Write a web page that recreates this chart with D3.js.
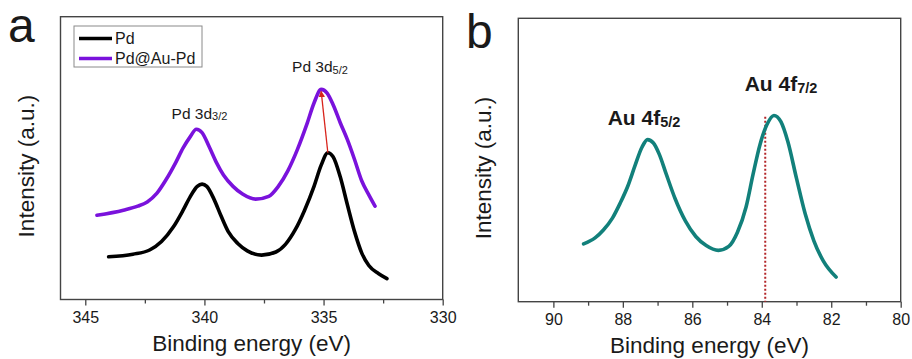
<!DOCTYPE html>
<html>
<head>
<meta charset="utf-8">
<script src="https://cdn.jsdelivr.net/npm/d3@7"></script>
<style>
    body { margin: 0; background: #fff; }
    text { font-family: "Liberation Sans", Arial, sans-serif; fill: #1a1a1a; }
</style>
</head>
<body>
<svg id="chart" width="912" height="359"></svg>
<script>
// panel a: Pd 3d region
const pdEnergy = [344.02, 343.0, 342.3, 341.8, 341.3, 340.9, 340.6, 340.3, 340.1, 339.9, 339.6, 339.3, 339.0, 338.6, 338.2, 337.6, 337.0, 336.6, 336.2, 335.8, 335.4, 335.1, 334.82, 334.6, 334.3, 334.0, 333.7, 333.4, 333.1, 332.7, 332.34]
const pdIntensity = [15.1, 16.0, 17.5, 20.5, 25.7, 31.5, 36.3, 40.0, 40.8, 40.0, 35.5, 29.5, 24.0, 19.8, 17.2, 15.7, 16.8, 19.5, 24.5, 31.5, 40.0, 47.5, 51.9, 50.5, 43.4, 33.5, 24.0, 16.5, 12.0, 9.2, 7.4]
const auPdEnergy = [344.51, 343.4, 342.8, 342.4, 342.0, 341.6, 341.2, 340.9, 340.6, 340.34, 340.1, 339.8, 339.5, 339.2, 338.8, 338.4, 337.85, 337.3, 336.9, 336.5, 336.1, 335.7, 335.4, 335.1, 334.85, 334.58, 334.3, 334.0, 333.7, 333.4, 333.1, 332.84]
const auPdIntensity = [29.8, 31.6, 33.0, 34.5, 37.5, 42.5, 48.5, 53.5, 57.5, 60.2, 59.0, 54.0, 48.5, 44.0, 40.0, 37.3, 35.5, 36.5, 40.0, 45.5, 53.0, 62.0, 69.5, 74.3, 73.0, 68.5, 62.5, 56.5, 49.5, 42.0, 37.0, 33.0]
const pdTicks = [345, 340, 335, 330]
const pdMinorTicks = [342.5, 337.5, 332.5]
const shiftArrow = [[334.82, 51.9], [335.10, 73.6]]

// panel b: Au 4f region
const auEnergy = [89.13, 88.8, 88.56, 88.3, 88.08, 87.85, 87.65, 87.45, 87.29, 87.12, 86.95, 86.75, 86.5, 86.2, 85.9, 85.6, 85.25, 84.95, 84.7, 84.45, 84.25, 84.05, 83.85, 83.65, 83.45, 83.25, 83.0, 82.75, 82.5, 82.23, 81.86]
const auIntensity = [20.4, 22.5, 25.3, 29.5, 34.7, 41.0, 48.0, 54.5, 57.2, 56.0, 52.0, 45.0, 36.5, 28.5, 23.0, 19.8, 18.1, 19.5, 24.5, 33.5, 45.0, 55.5, 62.5, 65.7, 63.5, 56.5, 43.5, 31.0, 21.5, 14.4, 8.7]
const auTicks = [90, 88, 86, 84, 82, 80]
const auMinorTicks = [89, 87, 85, 83, 81]
const refLine = [[83.9, 65.3], [83.9, 0]]

const svg = d3.select("#chart")

function drawPanel(opts) {
    const {left, right, top, bottom, domain, ticks, minor, letter, letterPos} = opts
    const x = d3.scaleLinear().domain(domain).range([left, right])
    const y = d3.scaleLinear().domain([0, 100]).range([bottom, top])
    const g = svg.append("g")

    g.append("g")
        .attr("transform", `translate(0,${bottom})`)
        .call(d3.axisBottom(x).tickValues(minor).tickSize(4).tickSizeOuter(0).tickFormat(""))
        .call(a => a.select(".domain").remove())
        .call(a => a.selectAll("line").attr("stroke", "#444").attr("stroke-width", 1.3))

    g.append("g")
        .attr("transform", `translate(0,${bottom})`)
        .call(d3.axisBottom(x).tickValues(ticks).tickSize(6).tickSizeOuter(0).tickPadding(6))
        .call(a => a.select(".domain").remove())
        .call(a => a.selectAll("line").attr("stroke", "#444").attr("stroke-width", 1.3))
        .call(a => a.selectAll("text").attr("font-size", 16).attr("fill", "#1a1a1a")
            .attr("font-family", "'Liberation Sans', Arial, sans-serif"))

    g.append("rect")
        .attr("x", left).attr("y", top)
        .attr("width", right - left).attr("height", bottom - top)
        .attr("fill", "none").attr("stroke", "#444").attr("stroke-width", 1.4)

    g.append("text")
        .attr("x", (left + right) / 2).attr("y", bottom + 51)
        .attr("text-anchor", "middle").attr("font-size", 22.5)
        .text("Binding energy (eV)")

    g.append("text")
        .attr("transform", `translate(${left - 27},${(top + bottom) / 2 + 8}) rotate(-90)`)
        .attr("text-anchor", "middle").attr("font-size", 22.5)
        .text("Intensity (a.u.)")

    g.append("text")
        .attr("x", letterPos[0]).attr("y", letterPos[1])
        .attr("font-size", 48)
        .text(letter)

    return {g, x, y}
}

function curve(p, energy, intensity, color) {
    const line = d3.line()
        .x(d => p.x(d[0]))
        .y(d => p.y(d[1]))
        .curve(d3.curveMonotoneX)
    p.g.append("path")
        .datum(d3.zip(energy, intensity))
        .attr("d", line)
        .attr("fill", "none")
        .attr("stroke", color)
        .attr("stroke-width", 3.6)
        .attr("stroke-linecap", "round")
        .attr("stroke-linejoin", "round")
}

function peakLabel(p, cx, baseline, main, sub, size, subSize, bold) {
    const t = p.g.append("text")
        .attr("x", cx).attr("y", baseline)
        .attr("text-anchor", "middle")
        .attr("font-size", size)
        .attr("font-weight", bold ? "bold" : "normal")
    t.append("tspan").text(main)
    t.append("tspan").attr("font-size", subSize).attr("dy", 1.5).text(sub)
}

// ---- panel a
const pa = drawPanel({
    left: 60.5, right: 442.7, top: 16.7, bottom: 299.5,
    domain: [346.04, 330], ticks: pdTicks, minor: pdMinorTicks,
    letter: "a", letterPos: [8, 42]
})
curve(pa, pdEnergy, pdIntensity, "#000000")
curve(pa, auPdEnergy, auPdIntensity, "#7a12dc")

svg.append("defs").append("marker")
    .attr("id", "arrowHead")
    .attr("viewBox", "0 0 10 10")
    .attr("refX", 9).attr("refY", 5)
    .attr("markerWidth", 5).attr("markerHeight", 5)
    .attr("orient", "auto")
    .append("path").attr("d", "M0,0L10,5L0,10z").attr("fill", "#d8241c")

pa.g.append("line")
    .attr("x1", pa.x(shiftArrow[0][0])).attr("y1", pa.y(shiftArrow[0][1]))
    .attr("x2", pa.x(shiftArrow[1][0])).attr("y2", pa.y(shiftArrow[1][1]))
    .attr("stroke", "#d8241c").attr("stroke-width", 1.3)
    .attr("marker-end", "url(#arrowHead)")

peakLabel(pa, 199.5, 118.5, "Pd 3d", "3/2", 15.5, 11, false)
peakLabel(pa, 320, 72, "Pd 3d", "5/2", 15.5, 11, false)

// legend
const legend = pa.g.append("g")
legend.append("rect")
    .attr("x", 74).attr("y", 26).attr("width", 128).attr("height", 41)
    .attr("fill", "#fff").attr("stroke", "#8a8a8a").attr("stroke-width", 1)
const legendItems = [["Pd", "#000000"], ["Pd@Au-Pd", "#7a12dc"]]
legendItems.forEach(([name, color], i) => {
    legend.append("line")
        .attr("x1", 79).attr("x2", 112)
        .attr("y1", 38.5 + i * 20).attr("y2", 38.5 + i * 20)
        .attr("stroke", color).attr("stroke-width", 3.6)
    legend.append("text")
        .attr("x", 115).attr("y", 44 + i * 20)
        .attr("font-size", 16)
        .text(name)
})

// ---- panel b
const pb = drawPanel({
    left: 518.3, right: 900.7, top: 18.3, bottom: 301.7,
    domain: [91.01, 80], ticks: auTicks, minor: auMinorTicks,
    letter: "b", letterPos: [466, 48]
})
pb.g.append("line")
    .attr("x1", pb.x(refLine[0][0])).attr("y1", pb.y(refLine[0][1]))
    .attr("x2", pb.x(refLine[1][0])).attr("y2", pb.y(refLine[1][1]))
    .attr("stroke", "#b3262a").attr("stroke-width", 2)
    .attr("stroke-dasharray", "2,2")
curve(pb, auEnergy, auIntensity, "#12807b")

peakLabel(pb, 644, 125, "Au 4f", "5/2", 21, 14.5, true)
peakLabel(pb, 781, 91, "Au 4f", "7/2", 21, 14.5, true)
</script>
</body>
</html>
